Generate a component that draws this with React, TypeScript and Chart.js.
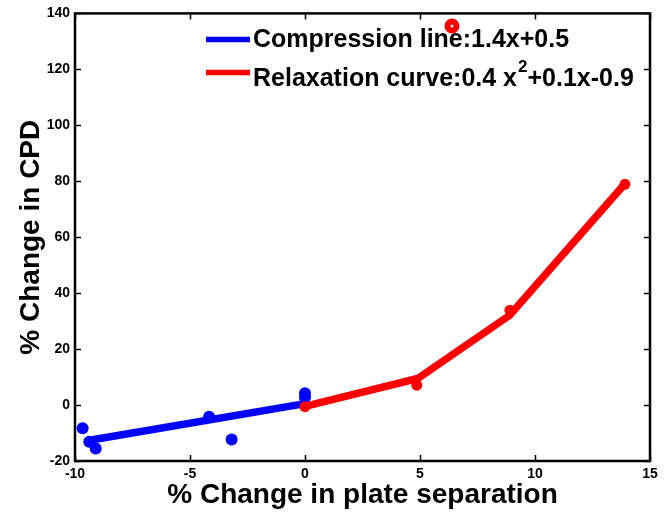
import React, { useEffect, useRef } from 'react';
import { Chart, registerables } from 'chart.js';

Chart.register(...registerables);

// ---- data ----
const compressionX = [-9.67, -9.38, -9.1, -4.17, -3.19, 0, 0];
const compressionY = [-8.3, -13.1, -15.5, -4.2, -12.3, 4.2, 2.8];
const compressionFitX = [-9.3, 0];
const compressionFitY = [-12.5, 0.5];
const relaxationX = [0, 4.86, 8.91, 13.91];
const relaxationY = [-0.6, 7.1, 33.9, 78.9];
const relaxationFitX = [0, 4.9, 8.9, 13.9];
const relaxationFitY = [-0.5, 9.5, 32.1, 79];
const outlierX = [6.39];
const outlierY = [135.5];

const xTickValues = [-10, -5, 0, 5, 10, 15];
const yTickValues = [-20, 0, 20, 40, 60, 80, 100, 120, 140];

const xTitle = '% Change in plate separation';
const yTitle = '% Change in CPD';
const legendCompression = 'Compression line:1.4x+0.5';
const legendRelaxationA = 'Relaxation curve:0.4 x';
const legendRelaxationSup = '2';
const legendRelaxationB = '+0.1x-0.9';

const BLUE = '#0000ff';
const RED = '#ff0000';
const FONT = "'Liberation Sans', Arial, Helvetica, sans-serif";

const pts = (xs: number[], ys: number[]) => xs.map((x, i) => ({ x, y: ys[i] }));

const framePlugin = {
  id: 'frameTicks',
  afterDatasetsDraw(chart: any) {
    const { ctx, chartArea: a, scales } = chart;
    ctx.save();
    ctx.strokeStyle = '#000';
    ctx.lineWidth = 1.5;
    const tl = 6;
    ctx.beginPath();
    xTickValues.forEach((v) => {
      const px = Math.round(scales.x.getPixelForValue(v)) + 0.5;
      ctx.moveTo(px, a.bottom);
      ctx.lineTo(px, a.bottom - tl);
      ctx.moveTo(px, a.top);
      ctx.lineTo(px, a.top + tl);
    });
    yTickValues.forEach((v) => {
      const py = Math.round(scales.y.getPixelForValue(v)) + 0.5;
      ctx.moveTo(a.left, py);
      ctx.lineTo(a.left + tl, py);
      ctx.moveTo(a.right, py);
      ctx.lineTo(a.right - tl, py);
    });
    ctx.stroke();
    ctx.lineWidth = 2.5;
    ctx.strokeRect(a.left, a.top, a.right - a.left, a.bottom - a.top);
    ctx.restore();
  },
};

const legendPlugin = {
  id: 'customLegend',
  afterDraw(chart: any) {
    const { ctx } = chart;
    ctx.save();
    ctx.lineWidth = 5.5;
    ctx.lineCap = 'butt';
    ctx.strokeStyle = BLUE;
    ctx.beginPath();
    ctx.moveTo(206, 39.5);
    ctx.lineTo(250, 39.5);
    ctx.stroke();
    ctx.strokeStyle = RED;
    ctx.beginPath();
    ctx.moveTo(206, 72.5);
    ctx.lineTo(250, 72.5);
    ctx.stroke();

    ctx.fillStyle = '#000';
    ctx.textBaseline = 'alphabetic';
    ctx.textAlign = 'left';
    ctx.font = `bold 25px ${FONT}`;
    ctx.fillText(legendCompression, 253, 47);
    ctx.fillText(legendRelaxationA, 253, 86);
    let x = 253 + ctx.measureText(legendRelaxationA).width;
    ctx.font = `bold 17px ${FONT}`;
    ctx.fillText(legendRelaxationSup, x + 1, 72);
    x += 1 + ctx.measureText(legendRelaxationSup).width;
    ctx.font = `bold 25px ${FONT}`;
    ctx.fillText(legendRelaxationB, x, 86);
    ctx.restore();
  },
};

export default function App() {
  const ref = useRef<HTMLCanvasElement | null>(null);

  useEffect(() => {
    if (!ref.current) return;
    const chart = new Chart(ref.current, {
      type: 'scatter',
      data: {
        datasets: [
          {
            label: 'relaxation points',
            data: pts(relaxationX, relaxationY),
            backgroundColor: RED,
            borderWidth: 0,
            pointRadius: 5.5,
            showLine: false,
          },
          {
            label: 'relaxation fit',
            data: pts(relaxationFitX, relaxationFitY),
            borderColor: RED,
            borderWidth: 7.5,
            pointRadius: 0,
            showLine: true,
            tension: 0,
          },
          {
            label: 'outlier',
            data: pts(outlierX, outlierY),
            backgroundColor: '#ffffff',
            borderColor: RED,
            borderWidth: 6,
            pointRadius: 4.5,
            showLine: false,
          },
          {
            label: 'compression points',
            data: pts(compressionX, compressionY),
            backgroundColor: BLUE,
            borderWidth: 0,
            pointRadius: 6,
            showLine: false,
          },
          {
            label: 'compression fit',
            data: pts(compressionFitX, compressionFitY),
            borderColor: BLUE,
            borderWidth: 7.5,
            pointRadius: 0,
            showLine: true,
            tension: 0,
          },
        ],
      },
      options: {
        responsive: false,
        animation: false,
        events: [],
        layout: { padding: { left: 0, right: 19, top: 13, bottom: 0 } },
        plugins: {
          legend: { display: false },
          tooltip: { enabled: false },
        },
        scales: {
          x: {
            type: 'linear',
            min: -10,
            max: 15,
            afterFit: (s: any) => {
              s.height = 54;
            },
            afterBuildTicks: (s: any) => {
              s.ticks = xTickValues.map((v) => ({ value: v }));
            },
            grid: { display: false, drawTicks: false },
            border: { display: false },
            ticks: {
              autoSkip: false,
              maxRotation: 0,
              padding: 5,
              color: '#000',
              font: { family: FONT, size: 14, weight: 'bold' },
            },
            title: {
              display: true,
              text: xTitle,
              color: '#000',
              font: { family: FONT, size: 28, weight: 'bold' },
              padding: { top: 0, bottom: 3 },
            },
          },
          y: {
            type: 'linear',
            min: -20,
            max: 140,
            afterFit: (s: any) => {
              s.width = 75;
            },
            afterBuildTicks: (s: any) => {
              s.ticks = yTickValues.map((v) => ({ value: v }));
            },
            grid: { display: false, drawTicks: false },
            border: { display: false },
            ticks: {
              autoSkip: false,
              padding: 5,
              color: '#000',
              font: { family: FONT, size: 14, weight: 'bold' },
            },
            title: {
              display: true,
              text: yTitle,
              color: '#000',
              font: { family: FONT, size: 28, weight: 'bold' },
              padding: { top: 14, bottom: 0 },
            },
          },
        },
      },
      plugins: [framePlugin, legendPlugin],
    });
    return () => chart.destroy();
  }, []);

  return (
    <div style={{ position: 'absolute', left: 0, top: 0, width: 669, height: 515, background: '#fff' }}>
      <canvas ref={ref} width={669} height={515} style={{ width: 669, height: 515, display: 'block' }} />
    </div>
  );
}
